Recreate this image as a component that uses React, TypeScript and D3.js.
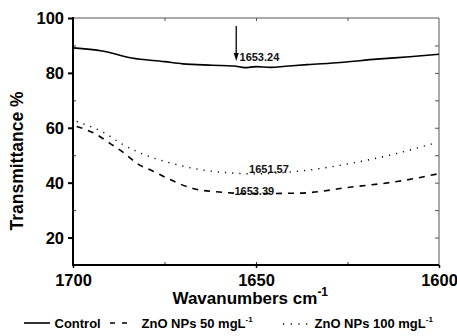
import React, { useEffect, useRef } from "react";
import * as d3 from "d3";

const controlWn = [1700, 1692, 1684, 1675, 1670, 1662, 1656, 1653, 1650, 1646, 1642, 1636, 1627, 1617, 1608, 1600];
const controlT = [89.1, 88.0, 85.4, 84.1, 83.3, 82.8, 82.5, 81.9, 82.3, 82.0, 82.4, 83.0, 83.8, 85.0, 85.9, 86.8];

const zn50Wn = [1699, 1693.5, 1690, 1686, 1682.6, 1678, 1674.4, 1667, 1660, 1652, 1638, 1624, 1611, 1600];
const zn50T = [60.5, 57.5, 54.4, 50.8, 47.1, 44.1, 41.7, 37.8, 36.6, 36.0, 36.2, 38.4, 40.5, 43.3];

const zn100Wn = [1699, 1691, 1687, 1682, 1674, 1665, 1656, 1651, 1639, 1625, 1612, 1602];
const zn100T = [62.3, 57.8, 54.4, 51.0, 47.4, 44.7, 43.5, 43.2, 44.1, 46.8, 50.5, 54.1];

const xTickLabels = [1700, 1650, 1600];
const yTickLabels = [20, 40, 60, 80, 100];

const peakLabels = [
  { text: "1653.24", wn: 1654.5, t: 84.4 },
  { text: "1651.57", wn: 1651.9, t: 43.5 },
  { text: "1653.39", wn: 1655.9, t: 35.4 },
];
const arrowWn = 1655.4;

const W = 457, H = 336;
const L = 73, R = 439, T = 18, B = 265;
const FONT = "Arial, 'Liberation Sans', Helvetica, sans-serif";

export default function App() {
  const ref = useRef<SVGSVGElement>(null);
  useEffect(() => {
    const svg = d3.select(ref.current);
    svg.selectAll("*").remove();
    const x = d3.scaleLinear().domain([1700, 1600]).range([L, R]);
    const y = d3.scaleLinear().domain([10, 100]).range([B, T]);

    // frame top/right
    svg.append("line").attr("x1", L).attr("x2", R).attr("y1", T).attr("y2", T).attr("stroke", "#555").attr("stroke-width", 1);
    svg.append("line").attr("x1", R).attr("x2", R).attr("y1", T).attr("y2", B).attr("stroke", "#555").attr("stroke-width", 1);

    const top = svg.append("g").attr("transform", `translate(0,${T})`)
      .call(d3.axisBottom(x).tickValues([1675, 1650, 1625]).tickSize(3).tickFormat(() => ""));
    top.select(".domain").remove();
    top.selectAll("line").attr("stroke", "#555");

    const right = svg.append("g").attr("transform", `translate(${R},0)`)
      .call(d3.axisLeft(y).tickValues([20, 30, 40, 50, 60, 70, 80, 90]).tickSize(4).tickFormat(() => ""));
    right.select(".domain").remove();
    right.selectAll("line").attr("stroke", "#555");

    const left = svg.append("g").attr("transform", `translate(${L},0)`)
      .call(d3.axisLeft(y).tickValues(yTickLabels).tickSize(5).tickPadding(4).tickFormat(d3.format("d")));
    left.select(".domain").remove();
    left.selectAll("line").attr("stroke", "#000").attr("stroke-width", 2);
    left.selectAll("text").attr("font-family", FONT).attr("font-size", 16.5).attr("font-weight", "bold").attr("fill", "#000").attr("dy", "0.36em");
    const leftMinor = svg.append("g").attr("transform", `translate(${L},0)`)
      .call(d3.axisRight(y).tickValues([30, 50, 70, 90]).tickSize(3).tickFormat(() => ""));
    leftMinor.select(".domain").remove();
    leftMinor.selectAll("line").attr("stroke", "#333");
    svg.append("line").attr("x1", L).attr("x2", L).attr("y1", T - 1).attr("y2", B + 1).attr("stroke", "#000").attr("stroke-width", 2);

    const bottom = svg.append("g").attr("transform", `translate(0,${B})`)
      .call(d3.axisBottom(x).tickValues(xTickLabels).tickSize(3).tickPadding(6).tickFormat(d3.format("d")));
    bottom.select(".domain").remove();
    bottom.selectAll("line").attr("stroke", "#000").attr("stroke-width", 1.5);
    bottom.selectAll("text").attr("font-family", FONT).attr("font-size", 16.5).attr("font-weight", "bold").attr("fill", "#000");
    const bottomMinor = svg.append("g").attr("transform", `translate(0,${B})`)
      .call(d3.axisTop(x).tickValues([1675, 1650, 1625]).tickSize(3).tickFormat(() => ""));
    bottomMinor.select(".domain").remove();
    bottomMinor.selectAll("line").attr("stroke", "#333");
    svg.append("line").attr("x1", L - 1).attr("x2", R).attr("y1", B).attr("y2", B).attr("stroke", "#000").attr("stroke-width", 2);

    const line = d3.line<[number, number]>().x(d => x(d[0])).y(d => y(d[1])).curve(d3.curveMonotoneX);
    const zip = (a: number[], b: number[]) => a.map((v, i) => [v, b[i]] as [number, number]);

    svg.append("path").attr("d", line(zip(controlWn, controlT))!).attr("fill", "none").attr("stroke", "#000").attr("stroke-width", 1.6);
    svg.append("path").attr("d", line(zip(zn50Wn, zn50T))!).attr("fill", "none").attr("stroke", "#000").attr("stroke-width", 1.6).attr("stroke-dasharray", "6,6");
    svg.append("path").attr("d", line(zip(zn100Wn, zn100T))!).attr("fill", "none").attr("stroke", "#000").attr("stroke-width", 1.4).attr("stroke-dasharray", "1.2,6");

    const ax = x(arrowWn);
    svg.append("line").attr("x1", ax).attr("x2", ax).attr("y1", 26).attr("y2", 54).attr("stroke", "#000").attr("stroke-width", 1.3);
    svg.append("path").attr("d", `M${ax - 2.5},53 L${ax + 2.5},53 L${ax},61 Z`).attr("fill", "#000");

    peakLabels.forEach(p => {
      svg.append("text").attr("x", x(p.wn)).attr("y", y(p.t)).text(p.text)
        .attr("font-family", FONT).attr("font-size", 11).attr("font-weight", "bold").attr("fill", "#111");
    });

    svg.append("text").attr("transform", `translate(23,161) rotate(-90)`).attr("text-anchor", "middle")
      .attr("font-family", FONT).attr("font-size", 17.5).attr("font-weight", "bold").text("Transmittance %");
    const xt = svg.append("text").attr("x", 172.5).attr("y", 304).attr("font-family", FONT).attr("font-size", 17).attr("font-weight", "bold");
    xt.append("tspan").text("Wavanumbers cm");
    xt.append("tspan").attr("dy", -8).attr("font-size", 12).text("-1");

    const ly = 323;
    svg.append("line").attr("x1", 24).attr("x2", 50).attr("y1", ly).attr("y2", ly).attr("stroke", "#000").attr("stroke-width", 1.6);
    svg.append("text").attr("x", 54.5).attr("y", ly + 4.5).attr("font-family", FONT).attr("font-size", 13).attr("font-weight", "bold").text("Control");
    svg.append("line").attr("x1", 110).attr("x2", 128).attr("y1", ly).attr("y2", ly).attr("stroke", "#000").attr("stroke-width", 1.6).attr("stroke-dasharray", "5,7");
    const t2 = svg.append("text").attr("x", 141.5).attr("y", ly + 4.5).attr("font-family", FONT).attr("font-size", 13).attr("font-weight", "bold");
    t2.append("tspan").text("ZnO NPs 50 mgL");
    t2.append("tspan").attr("dy", -6).attr("font-size", 8).text("-1");
    svg.append("line").attr("x1", 283).attr("x2", 312).attr("y1", ly + 1).attr("y2", ly + 1).attr("stroke", "#000").attr("stroke-width", 1.3).attr("stroke-dasharray", "1.2,6.5");
    const t3 = svg.append("text").attr("x", 314.5).attr("y", ly + 4.5).attr("font-family", FONT).attr("font-size", 13).attr("font-weight", "bold");
    t3.append("tspan").text("ZnO NPs 100 mgL");
    t3.append("tspan").attr("dy", -6).attr("font-size", 8).text("-1");
  }, []);

  return (
    <svg ref={ref} width={W} height={H} style={{ position: "absolute", left: 0, top: 0, background: "#fff" }} />
  );
}
